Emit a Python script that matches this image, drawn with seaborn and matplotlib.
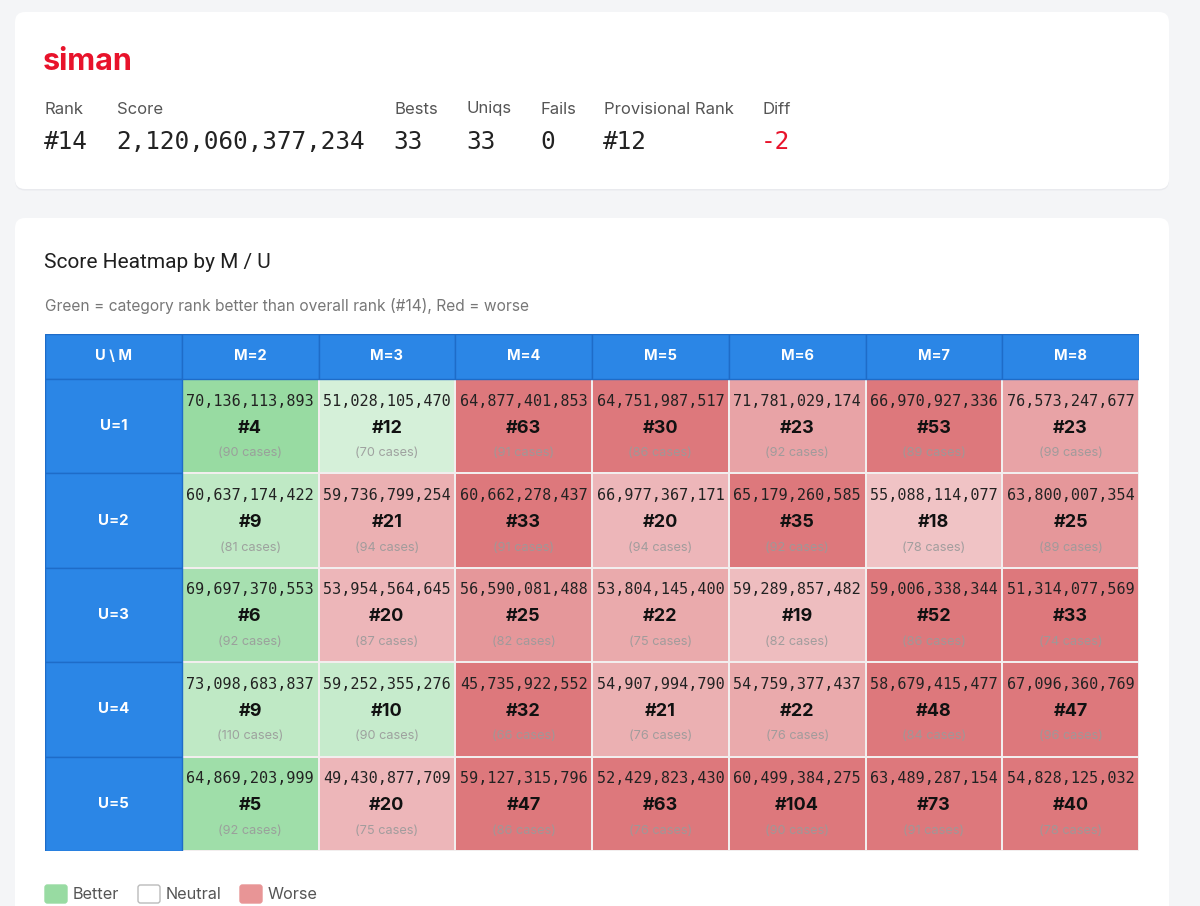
import numpy as np
import pandas as pd
import matplotlib
matplotlib.use('Agg')
import matplotlib.pyplot as plt
import seaborn as sns
from matplotlib.colors import LinearSegmentedColormap
from matplotlib.patches import FancyBboxPatch, Rectangle

# summary card
player = 'siman'
stat_labels = ['Rank', 'Score', 'Bests', 'Uniqs', 'Fails', 'Provisional Rank', 'Diff']
stat_values = ['#14', '2,120,060,377,234', '33', '33', '0', '#12', '-2']
overall_rank = 14

# heatmap data
m_labels = ['M=2', 'M=3', 'M=4', 'M=5', 'M=6', 'M=7', 'M=8']
u_labels = ['U=1', 'U=2', 'U=3', 'U=4', 'U=5']
scores = [
    [70136113893, 51028105470, 64877401853, 64751987517, 71781029174, 66970927336, 76573247677],
    [60637174422, 59736799254, 60662278437, 66977367171, 65179260585, 55088114077, 63800007354],
    [69697370553, 53954564645, 56590081488, 53804145400, 59289857482, 59006338344, 51314077569],
    [73098683837, 59252355276, 45735922552, 54907994790, 54759377437, 58679415477, 67096360769],
    [64869203999, 49430877709, 59127315796, 52429823430, 60499384275, 63489287154, 54828125032],
]
ranks = [
    [4, 12, 63, 30, 23, 53, 23],
    [9, 21, 33, 20, 35, 18, 25],
    [6, 20, 25, 22, 19, 52, 33],
    [9, 10, 32, 21, 22, 48, 47],
    [5, 20, 47, 63, 104, 73, 40],
]
cases = [
    [90, 70, 91, 86, 92, 89, 99],
    [81, 94, 91, 94, 92, 78, 89],
    [92, 87, 82, 75, 82, 86, 74],
    [110, 90, 66, 76, 76, 84, 96],
    [92, 75, 86, 76, 90, 91, 78],
]

GREEN = '#98dba2'
RED = '#dd787c'
BLUE = '#2b86e6'
BLUE_EDGE = '#1e6cc8'


def shade(r):
    # negative = better (green), positive = worse (red)
    if r < overall_rank:
        return -(0.25 + 0.75 * min(1, (overall_rank - r) / 10))
    if r > overall_rank:
        return 0.25 + 0.75 * min(1, (r - overall_rank) / 16)
    return 0.0


shade_df = pd.DataFrame([[shade(r) for r in row] for row in ranks],
                        index=u_labels, columns=m_labels)
cmap = LinearSegmentedColormap.from_list('gr', [GREEN, '#ffffff', RED])

sns.set_style('white')
plt.rcParams['font.family'] = ['Inter', 'DejaVu Sans']
MONO = 'DejaVu Sans Mono'

fig = plt.figure(figsize=(12, 9.06), dpi=100)
fig.patch.set_facecolor('#f4f5f7')

pax = fig.add_axes([0, 0, 1, 1])
pax.set_xlim(0, 1200)
pax.set_ylim(906, 0)
pax.axis('off')

# cards
for (x0, y0, w, h) in [(15, 12, 1154, 177), (15, 218, 1154, 720)]:
    pax.add_patch(FancyBboxPatch((x0, y0 + 1.5), w, h, boxstyle='round,pad=0,rounding_size=10',
                                 fc='#e9eaee', ec='none', zorder=1))
    pax.add_patch(FancyBboxPatch((x0, y0), w, h, boxstyle='round,pad=0,rounding_size=10',
                                 fc='white', ec='none', zorder=2))

pax.text(43, 62, player, color='#e8132b', fontsize=22, fontweight='bold',
         va='center', ha='left', zorder=3)

stat_x = [45, 117, 394, 467, 541, 604, 762]
for x, lab, val in zip(stat_x, stat_labels, stat_values):
    pax.text(x, 109, lab, color='#555555', fontsize=12, va='center', ha='left', zorder=3)
    col = '#e8132b' if val.startswith('-') else '#222222'
    pax.text(x - 1, 142, val, color=col, fontsize=17.6, family=MONO,
             va='center', ha='left', zorder=3)

pax.text(44, 262, 'Score Heatmap by M / U', color='#1f1f1f', fontsize=15,
         family=['Roboto', 'DejaVu Sans'], va='center', ha='left', zorder=3)
pax.text(45, 306, 'Green = category rank better than overall rank (#14), Red = worse',
         color='#777777', fontsize=11.2, va='center', ha='left', zorder=3)

# legend
legend_items = [('Better', GREEN, GREEN), ('Neutral', 'white', '#bbbbbb'), ('Worse', '#e89596', '#e89596')]
leg_x = [45, 138, 240]
for x, (lab, fc, ec) in zip(leg_x, legend_items):
    pax.add_patch(FancyBboxPatch((x, 885), 22, 18, boxstyle='round,pad=0,rounding_size=2.5',
                                 fc=fc, ec=ec, lw=1, zorder=3))
    pax.text(x + 28, 894.5, lab, color='#555555', fontsize=11.7, va='center', ha='left', zorder=3)

# table
hh = 45 / 94.4
tax = fig.add_axes([45 / 1200, (906 - 851) / 906, 1094 / 1200, 517 / 906])
sns.heatmap(shade_df, ax=tax, cmap=cmap, vmin=-1, vmax=1, cbar=False,
            linewidths=1.2, linecolor='#f2eeee')
tax.set_xlim(-1, 7)
tax.set_ylim(5, -hh)
tax.axis('off')

tax.add_patch(Rectangle((-1, -hh), 1, hh, fc=BLUE, ec=BLUE_EDGE, lw=1))
tax.text(-0.5, -hh / 2, 'U \\ M', color='white', fontsize=10.5, fontweight='bold',
         ha='center', va='center')
for j, lab in enumerate(m_labels):
    tax.add_patch(Rectangle((j, -hh), 1, hh, fc=BLUE, ec=BLUE_EDGE, lw=1))
    tax.text(j + 0.5, -hh / 2, lab, color='white', fontsize=10.5, fontweight='bold',
             ha='center', va='center')
for i, lab in enumerate(u_labels):
    tax.add_patch(Rectangle((-1, i), 1, 1, fc=BLUE, ec=BLUE_EDGE, lw=1))
    tax.text(-0.5, i + 0.5, lab, color='white', fontsize=10.8, fontweight='bold',
             ha='center', va='center')

for i in range(len(u_labels)):
    for j in range(len(m_labels)):
        tax.text(j + 0.5, i + 0.235, f'{scores[i][j]:,}', family=MONO, fontsize=10.9,
                 color='#222222', ha='center', va='center')
        tax.text(j + 0.5, i + 0.52, f'#{ranks[i][j]}', fontsize=13, fontweight='bold',
                 color='#111111', ha='center', va='center')
        tax.text(j + 0.5, i + 0.785, f'({cases[i][j]} cases)', fontsize=9.2,
                 color='#9a9a9a', alpha=0.9, ha='center', va='center')

fig.savefig('out.png', dpi=100, facecolor=fig.get_facecolor())
